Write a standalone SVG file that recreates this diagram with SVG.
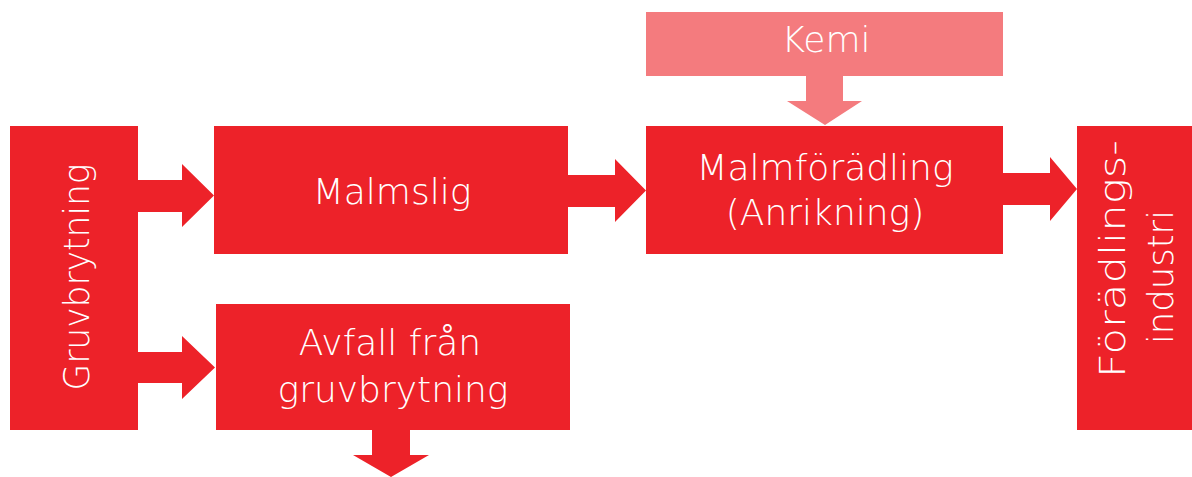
<svg xmlns="http://www.w3.org/2000/svg" width="1192" height="477" viewBox="0 0 1192 477">
<style>
.box{fill:#ED2229}
.pink{fill:#F47B7E}
.t{fill:#FFFFFF;font-family:"DejaVu Sans","Liberation Sans",sans-serif;font-weight:200;font-size:36px;text-anchor:middle}
</style>
<rect width="1192" height="477" fill="#FFFFFF"/>
<g id="connectors">
<polygon class="box" points="138,180 182,180 182,164 214,195.5 182,227 182,212 138,212"/>
<polygon class="box" points="138,352 182,352 182,336 215,367.5 182,399 182,383 138,383"/>
<polygon class="box" points="568,175 615,175 615,159 646,190.5 615,222 615,207 568,207"/>
<polygon class="box" points="1003,173 1050,173 1050,157 1077,189 1050,221 1050,205 1003,205"/>
<polygon class="pink" points="806,76 843,76 843,101 862,101 825,125 787,101 806,101"/>
<polygon class="box" points="372,430 410,430 410,455 429,455 391,477 353,455 372,455"/>
</g>
<g id="gruvbrytning">
<rect class="box" x="10" y="126" width="128" height="304"/>
<text class="t" transform="translate(89,277) rotate(-90)" font-size="40" textLength="227" lengthAdjust="spacingAndGlyphs">Gruvbrytning</text>
</g>
<g id="malmslig">
<rect class="box" x="214" y="126" width="354" height="128"/>
<text class="t" x="392" y="204">Malmslig</text>
</g>
<g id="avfall">
<rect class="box" x="216" y="304" width="354" height="126"/>
<text class="t" x="390" y="355">Avfall från</text>
<text class="t" x="393" y="402">gruvbrytning</text>
</g>
<g id="kemi">
<rect class="pink" x="646" y="12" width="357" height="64"/>
<text class="t" x="826" y="52" font-size="33">Kemi</text>
</g>
<g id="malmforadling">
<rect class="box" x="646" y="126" width="357" height="128"/>
<text class="t" x="825" y="180">Malmförädling</text>
<text class="t" x="825" y="225">(Anrikning)</text>
</g>
<g id="foradlingsindustri">
<rect class="box" x="1077" y="126" width="115" height="304"/>
<text class="t" transform="translate(1125,259) rotate(-90)" font-size="31" textLength="238" lengthAdjust="spacingAndGlyphs">Förädlings-</text>
<text class="t" transform="translate(1173,277) rotate(-90)" font-size="31" textLength="134" lengthAdjust="spacingAndGlyphs">industri</text>
</g>
</svg>
